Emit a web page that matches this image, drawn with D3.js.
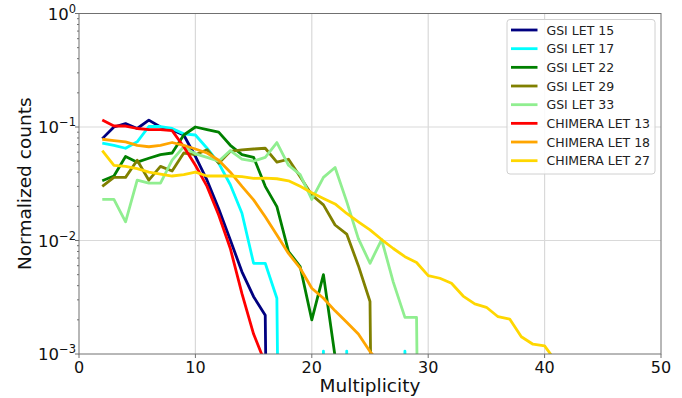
<!DOCTYPE html>
<html>
<head>
<meta charset="utf-8">
<script src="https://cdn.jsdelivr.net/npm/d3@7"></script>
<style>
  html, body { margin: 0; padding: 0; background: #fff; }
  svg { display: block; font-family: "DejaVu Sans", sans-serif; }
</style>
</head>
<body>
<svg id="chart" width="682" height="398"></svg>
<script>
// ---- data (values start at multiplicity 2, one value per integer multiplicity) ----
const startMultiplicity = 2;
const seriesNames = ["GSI LET 15", "GSI LET 17", "GSI LET 22", "GSI LET 29", "GSI LET 33",
                     "CHIMERA LET 13", "CHIMERA LET 18", "CHIMERA LET 27"];
const seriesColors = ["#000080", "#00ffff", "#008000", "#808000", "#90ee90",
                      "#ff0000", "#ffa500", "#ffd700"];

const gsiLet15 = [0.079, 0.100, 0.107, 0.097, 0.115, 0.100, 0.094, 0.085, 0.055, 0.034,
                  0.019, 0.0101, 0.0053, 0.0032, 0.0022, 0];
const gsiLet17 = [0.072, 0.069, 0.065, 0.074, 0.101, 0.101, 0.097, 0.087, 0.085, 0.065,
                  0.048, 0.031, 0.0174, 0.0063, 0.0063, 0.0031, 0, 0, 0, 0.00106,
                  0, 0.00106, 0, 0, 0, 0, 0.00106, 0];
const gsiLet22 = [0.0336, 0.037, 0.055, 0.049, 0.053, 0.057, 0.059, 0.085, 0.100, 0.095,
                  0.090, 0.069, 0.057, 0.054, 0.030, 0.0199, 0.0080, 0.0059, 0.0020, 0.0050,
                  0.00095, 0];
const gsiLet29 = [0.030, 0.036, 0.036, 0.051, 0.034, 0.045, 0.041, 0.059, 0.057, 0.063,
                  0.048, 0.061, 0.063, 0.064, 0.065, 0.049, 0.052, 0.0365, 0.0252, 0.0206,
                  0.0137, 0.0114, 0.0060, 0.0029, 0];
const gsiLet33 = [0.023, 0.023, 0.0146, 0.034, 0.032, 0.032, 0.051, 0.067, 0.058, 0.054,
                  0.050, 0.062, 0.052, 0.050, 0.054, 0.073, 0.046, 0.038, 0.023, 0.036,
                  0.044, 0.022, 0.0104, 0.0063, 0.0102, 0.0043, 0.0021, 0.0021, 0];
const chimeraLet13 = [0.115, 0.102, 0.102, 0.097, 0.095, 0.095, 0.093, 0.067, 0.046, 0.030,
                      0.0168, 0.0085, 0.0034, 0.0015, 0.00083];
const chimeraLet18 = [0.078, 0.076, 0.074, 0.069, 0.067, 0.069, 0.073, 0.069, 0.064, 0.059,
                      0.051, 0.040, 0.030, 0.0228, 0.0162, 0.0112, 0.0077, 0.0057, 0.0038, 0.0031,
                      0.0024, 0.0019, 0.0015, 0.00105, 0.0008];
const chimeraLet27 = [0.062, 0.046, 0.045, 0.043, 0.040, 0.0385, 0.037, 0.038, 0.040, 0.037,
                      0.037, 0.037, 0.0365, 0.0353, 0.0355, 0.0350, 0.0336, 0.030, 0.0264, 0.0235,
                      0.021, 0.0173, 0.0146, 0.0124, 0.0102, 0.0085, 0.0072, 0.0064, 0.0049, 0.00465,
                      0.0042, 0.00324, 0.00276, 0.00258, 0.00213, 0.00203, 0.00142, 0.00122, 0.00118, 0.00085];
const seriesValues = [gsiLet15, gsiLet17, gsiLet22, gsiLet29, gsiLet33,
                      chimeraLet13, chimeraLet18, chimeraLet27];

const xTicks = [0, 10, 20, 30, 40, 50];
const yTicks = [1e-3, 1e-2, 1e-1, 1];
const yTickExponents = ["\u22123", "\u22122", "\u22121", "0"];
const xLabel = "Multiplicity";
const yLabel = "Normalized counts";

// ---- layout ----
const svg = d3.select("#chart");
const plot = { left: 79, right: 661, top: 13.5, bottom: 354 };
const x = d3.scaleLinear().domain([0, 50]).range([plot.left, plot.right]);
const y = d3.scaleLog().domain([1e-3, 1]).range([plot.bottom, plot.top]);
const floorVal = 1e-12;

svg.append("defs").append("clipPath").attr("id", "clip")
  .append("rect").attr("x", plot.left).attr("y", plot.top)
  .attr("width", plot.right - plot.left).attr("height", plot.bottom - plot.top);

// grid
const grid = svg.append("g");
grid.selectAll(".gx").data(xTicks.slice(1, -1)).enter().append("line")
  .attr("x1", d => x(d)).attr("x2", d => x(d))
  .attr("y1", plot.top).attr("y2", plot.bottom)
  .attr("stroke", "#d9d9d9").attr("stroke-width", 1.2);
grid.selectAll(".gy").data(yTicks.slice(1, -1)).enter().append("line")
  .attr("x1", plot.left).attr("x2", plot.right)
  .attr("y1", d => y(d)).attr("y2", d => y(d))
  .attr("stroke", "#d9d9d9").attr("stroke-width", 1.2);

// lines
const line = d3.line()
  .x((d, i) => x(i + startMultiplicity))
  .y(d => y(d > 0 ? d : floorVal));
const lines = svg.append("g").attr("clip-path", "url(#clip)");
seriesValues.forEach((vals, k) => {
  lines.append("path").datum(vals)
    .attr("d", line)
    .attr("fill", "none")
    .attr("stroke", seriesColors[k])
    .attr("stroke-width", 2.8)
    .attr("stroke-linejoin", "round");
});

// axes frame
const axisColor = "#707070";
svg.append("rect")
  .attr("x", plot.left).attr("y", plot.top)
  .attr("width", plot.right - plot.left).attr("height", plot.bottom - plot.top)
  .attr("fill", "none").attr("stroke", axisColor).attr("stroke-width", 1);

// x ticks
const xAxis = svg.append("g");
xTicks.forEach(t => {
  xAxis.append("line").attr("x1", x(t)).attr("x2", x(t))
    .attr("y1", plot.bottom).attr("y2", plot.bottom + 4)
    .attr("stroke", axisColor);
  xAxis.append("text").attr("x", x(t)).attr("y", plot.bottom + 19)
    .attr("text-anchor", "middle").attr("font-size", 16).attr("fill", "#111")
    .text(t);
});

// y ticks (major + minor)
const yAxis = svg.append("g");
yTicks.forEach((t, i) => {
  yAxis.append("line").attr("x1", plot.left - 4).attr("x2", plot.left)
    .attr("y1", y(t)).attr("y2", y(t)).attr("stroke", axisColor);
  const txt = yAxis.append("text").attr("x", plot.left - 3).attr("y", y(t) + 6)
    .attr("text-anchor", "end").attr("fill", "#111");
  txt.append("tspan").attr("font-size", 16.5).text("10");
  txt.append("tspan").attr("font-size", 11.5).attr("dy", -7).text(yTickExponents[i]);
  if (i < yTicks.length - 1) {
    for (let m = 2; m <= 9; m++) {
      const v = t * m;
      yAxis.append("line").attr("x1", plot.left - 2).attr("x2", plot.left)
        .attr("y1", y(v)).attr("y2", y(v)).attr("stroke", axisColor);
    }
  }
});

// axis labels
svg.append("text").attr("x", (plot.left + plot.right) / 2).attr("y", 392)
  .attr("text-anchor", "middle").attr("font-size", 18.5).attr("fill", "#111")
  .text(xLabel);
svg.append("text")
  .attr("transform", `translate(31,${(plot.top + plot.bottom) / 2}) rotate(-90)`)
  .attr("text-anchor", "middle").attr("font-size", 18.5).attr("fill", "#111")
  .text(yLabel);

// legend
const legend = svg.append("g");
legend.append("rect").attr("x", 507).attr("y", 19.5).attr("width", 148).attr("height", 154.5)
  .attr("rx", 3).attr("fill", "#fff").attr("fill-opacity", 0.85)
  .attr("stroke", "#d0d0d0").attr("stroke-width", 1);
seriesNames.forEach((name, k) => {
  const ly = 30 + k * 18.67;
  legend.append("line").attr("x1", 511).attr("x2", 537.5)
    .attr("y1", ly).attr("y2", ly)
    .attr("stroke", seriesColors[k]).attr("stroke-width", 2.8);
  legend.append("text").attr("x", 546.5).attr("y", ly + 4.5)
    .attr("font-size", 12.5).attr("fill", "#222").text(name);
});
</script>
</body>
</html>
